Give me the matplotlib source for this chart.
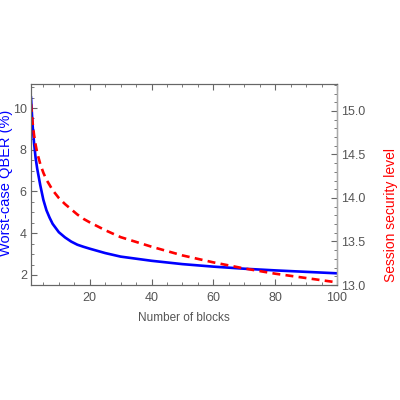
import matplotlib
matplotlib.use('Agg')
import matplotlib.pyplot as plt
from matplotlib.ticker import MultipleLocator, FormatStrFormatter

plt.rcParams['font.family'] = ['Liberation Sans', 'DejaVu Sans']

# values
blocks = [1, 1.5, 2, 2.5, 3, 4, 5, 6, 7, 8, 10, 12, 14, 16, 18, 20, 25, 30, 40, 50,
          60, 70, 80, 90, 100]
qber = [10.5, 9.2, 8.3, 7.6, 7.1, 6.3, 5.6, 5.1, 4.75, 4.45, 4.05, 3.8, 3.6, 3.45,
        3.35, 3.26, 3.05, 2.88, 2.68, 2.52, 2.40, 2.30, 2.22, 2.15, 2.08]
security = [15.08, 14.87, 14.72, 14.61, 14.52, 14.39, 14.29, 14.21, 14.15, 14.09,
            14.0, 13.93, 13.87, 13.81, 13.76, 13.72, 13.63, 13.55, 13.44, 13.34,
            13.26, 13.19, 13.13, 13.08, 13.03]

gray = '#666666'
tick_col = '#555555'

fig = plt.figure(figsize=(4, 4), dpi=100)
ax = fig.add_axes([0.0775, 0.2875, 0.765, 0.5025])
ax2 = ax.twinx()

ax.plot(blocks, qber, color='#0000ff', lw=1.9)
ax2.plot(blocks, security, color='#ff0000', lw=1.9, dashes=(3, 2))

ax.set_xlim(1, 100)
ax.set_ylim(1.52, 11.15)
ax2.set_ylim(13.0, 15.31)

ax.xaxis.set_major_locator(MultipleLocator(20))
ax.xaxis.set_minor_locator(MultipleLocator(5))
ax.yaxis.set_major_locator(MultipleLocator(2))
ax.yaxis.set_minor_locator(MultipleLocator(0.5))
ax2.yaxis.set_major_locator(MultipleLocator(0.5))
ax2.yaxis.set_minor_locator(MultipleLocator(0.1))
ax2.yaxis.set_major_formatter(FormatStrFormatter('%.1f'))

for a in (ax, ax2):
    a.tick_params(which='both', direction='in', colors=gray, labelcolor=tick_col,
                  labelsize=9, pad=3)
    a.tick_params(which='major', length=4)
    a.tick_params(which='minor', length=2)
    for s in a.spines.values():
        s.set_color(gray)
        s.set_linewidth(0.8)
ax.tick_params(top=True, which='both', labeltop=False)
ax.tick_params(axis='x', pad=5)
ax2.spines['right'].set_color('#aaaaaa')
ax2.spines['right'].set_linewidth(1.0)

ax.set_xlabel('Number of blocks', color=tick_col, fontsize=8.5, labelpad=6)
ax.set_ylabel('Worst-case QBER (%)', color='#0000ff', fontsize=10.5)
ax.yaxis.set_label_coords(-0.058, 0.51)
ax2.set_ylabel('Session security level', color='#ff0000', fontsize=10)
ax2.yaxis.set_label_coords(1.155, 0.35)

fig.savefig('out.png')
